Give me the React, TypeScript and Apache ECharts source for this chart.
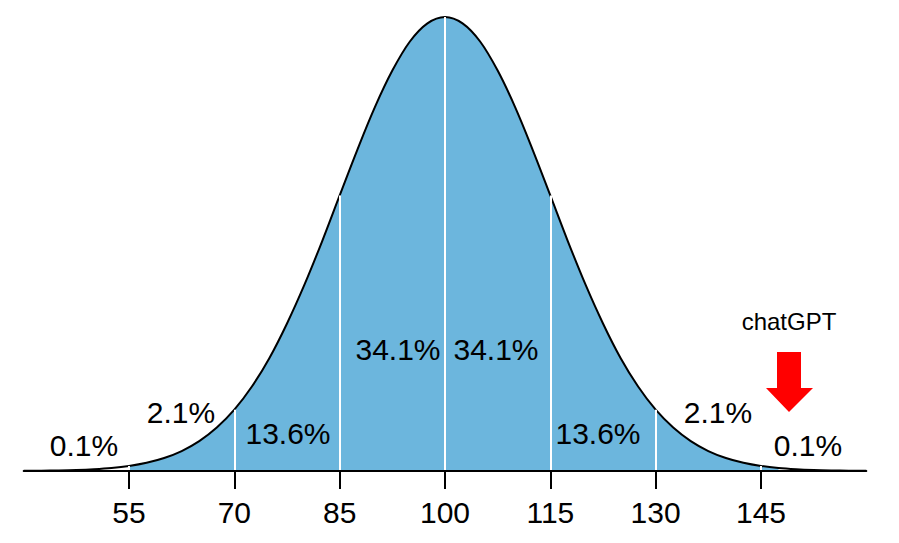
import { useEffect, useRef } from 'react'
import * as echarts from 'echarts'

// x positions (IQ score) and curve height (peak = 100)
const xs = [
  40, 42.5, 45, 47.5, 50, 52.5, 55, 57.5, 60, 62.5, 65, 67.5, 70, 72.5, 75, 77.5, 80, 82.5, 85, 87.5, 90, 92.5, 95,
  97.5, 100, 102.5, 105, 107.5, 110, 112.5, 115, 117.5, 120, 122.5, 125, 127.5, 130, 132.5, 135, 137.5, 140, 142.5,
  145, 147.5, 150, 152.5, 155, 157.5, 160,
]
const heights = [
  0.03, 0.06, 0.12, 0.22, 0.39, 0.66, 1.11, 1.81, 2.86, 4.39, 6.57, 9.56, 13.5, 18.6, 24.9, 32.5, 41.1, 50.6, 60.7,
  70.7, 80.1, 88.2, 94.6, 98.6, 100, 98.6, 94.6, 88.2, 80.1, 70.7, 60.7, 50.6, 41.1, 32.5, 24.9, 18.6, 13.5, 9.56, 6.57,
  4.39, 2.86, 1.81, 1.11, 0.66, 0.39, 0.22, 0.12, 0.06, 0.03,
]
const tickValues = [55, 70, 85, 100, 115, 130, 145]
const fillFrom = 55
const fillTo = 147.5

const pctLabels = ['0.1%', '2.1%', '13.6%', '34.1%', '34.1%', '13.6%', '2.1%', '0.1%']
const pctPos = [
  [84, 445],
  [181, 412],
  [288, 433],
  [398, 349],
  [496, 349],
  [598, 433],
  [718, 412],
  [808, 445],
]
const noteText = 'chatGPT'

const FONT = '"Liberation Sans", Arial, sans-serif'
const FILL = '#6cb6dd'

export default function App() {
  const ref = useRef<HTMLDivElement | null>(null)

  useEffect(() => {
    if (!ref.current) return
    const chart = echarts.init(ref.current, undefined, { renderer: 'svg' })

    const curve = xs.map((x, i) => [x, heights[i]])
    const filled = curve.filter(([x]) => x >= fillFrom && x <= fillTo)
    const dividers = tickValues.map((v) => {
      const h = heights[xs.indexOf(v)]
      return [{ coord: [v, 0] }, { coord: [v, h] }]
    })

    const texts: any[] = pctLabels.map((t, i) => ({
      type: 'text',
      x: pctPos[i][0],
      y: pctPos[i][1],
      z: 100,
      style: {
        text: t,
        fill: '#000',
        fontSize: 30,
        fontFamily: FONT,
        textAlign: 'center',
        textVerticalAlign: 'middle',
      },
    }))

    const option: echarts.EChartsOption = {
      animation: false,
      grid: { left: 23.7, right: 32.7, top: 17, bottom: 72 },
      xAxis: {
        type: 'value',
        min: 40,
        max: 160,
        z: 10,
        splitLine: { show: false },
        axisLine: { lineStyle: { color: '#000', width: 2 } },
        axisTick: {
          show: true,
          length: 18,
          lineStyle: { color: '#000', width: 2 },
          customValues: tickValues,
        },
        axisLabel: {
          customValues: tickValues,
          color: '#000',
          fontSize: 30,
          fontFamily: FONT,
          margin: 26,
        },
      },
      yAxis: { type: 'value', min: 0, max: 100, show: false },
      series: [
        {
          type: 'line',
          data: filled,
          smooth: 0.35,
          symbol: 'none',
          lineStyle: { width: 0 },
          areaStyle: { color: FILL, opacity: 1 },
          silent: true,
          z: 2,
          markLine: {
            silent: true,
            symbol: 'none',
            label: { show: false },
            lineStyle: { color: '#fff', width: 2, type: 'solid' },
            data: dividers as any,
          },
        },
        {
          type: 'line',
          data: curve,
          smooth: 0.35,
          symbol: 'none',
          lineStyle: { color: '#000', width: 2 },
          silent: true,
          z: 3,
        },
      ],
      graphic: [
        ...texts,
        {
          type: 'text',
          x: 789,
          y: 321,
          style: {
            text: noteText,
            fill: '#000',
            fontSize: 24,
            fontFamily: FONT,
            textAlign: 'center',
            textVerticalAlign: 'middle',
          },
        },
        {
          type: 'polygon',
          shape: {
            points: [
              [777, 352],
              [801, 352],
              [801, 388],
              [813, 388],
              [789, 412],
              [766, 388],
              [777, 388],
            ],
          },
          style: { fill: '#ff0000' },
        },
      ],
    }
    chart.setOption(option)
    return () => chart.dispose()
  }, [])

  return <div ref={ref} style={{ position: 'fixed', left: 0, top: 0, width: 899, height: 543, background: '#fff' }} />
}
